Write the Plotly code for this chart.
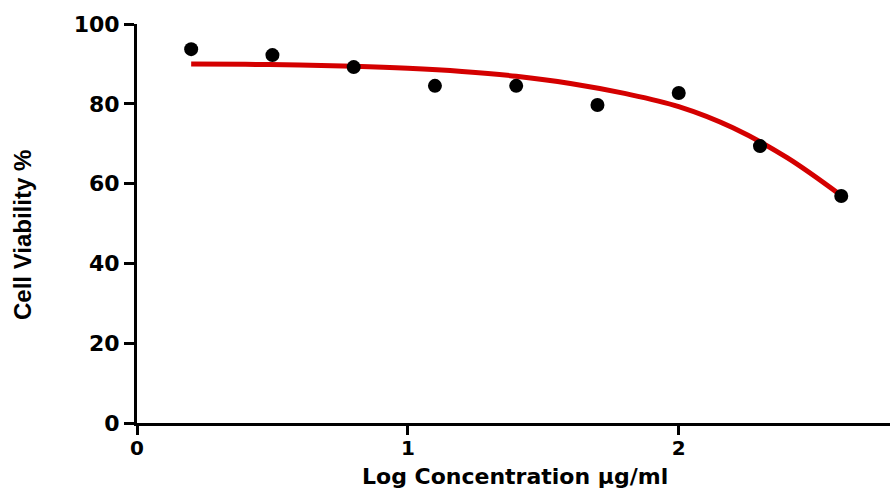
import plotly.graph_objects as go

# Observed data points
log_conc = [0.2, 0.5, 0.8, 1.1, 1.4, 1.7, 2.0, 2.3, 2.6]
viability = [93.7, 92.2, 89.2, 84.5, 84.5, 79.7, 82.7, 69.4, 56.9]

# Fitted curve
fit_x = [0.2, 0.4, 0.6, 0.8, 1.0, 1.2, 1.4, 1.6, 1.8, 2.0, 2.2, 2.4, 2.6]
fit_y = [90.0, 89.9, 89.7, 89.4, 88.9, 88.1, 86.9, 85.1, 82.6, 79.3, 74.0, 66.5, 57.0]

x_ticks = [0, 1, 2]
y_ticks = [0, 20, 40, 60, 80, 100]

fig = go.Figure()
fig.add_trace(go.Scatter(
    x=fit_x, y=fit_y, mode="lines",
    line=dict(color="#d40000", width=5, shape="spline"),
    showlegend=False, hoverinfo="skip",
))
fig.add_trace(go.Scatter(
    x=log_conc, y=viability, mode="markers",
    marker=dict(color="black", size=14),
    showlegend=False,
))

y_tick_font = dict(family="DejaVu Sans", size=22, color="black", weight="bold")
x_tick_font = dict(family="DejaVu Sans", size=20, color="black", weight="bold")

fig.update_layout(
    width=894, height=491,
    margin=dict(l=137, r=4, t=24, b=68),
    paper_bgcolor="white", plot_bgcolor="white",
    xaxis=dict(
        range=[0, 2.78], tickvals=x_ticks, ticktext=[str(v) for v in x_ticks],
        showline=True, linecolor="black", linewidth=3,
        ticks="outside", ticklen=9, tickwidth=3, tickcolor="black",
        showgrid=False, zeroline=False, tickfont=x_tick_font, automargin=False,
        ticklabelstandoff=-4,
    ),
    yaxis=dict(
        range=[0, 100], tickvals=y_ticks, ticktext=[str(v) for v in y_ticks],
        showline=True, linecolor="black", linewidth=3,
        ticks="outside", ticklen=10, tickwidth=3, tickcolor="black",
        showgrid=False, zeroline=False, tickfont=y_tick_font, automargin=False,
    ),
    annotations=[
        dict(text="Log Concentration μg/ml", xref="paper", yref="paper",
             x=(515 - 137) / 753, y=0, xanchor="center", yanchor="middle",
             yshift=-53, showarrow=False,
             font=dict(family="DejaVu Sans", size=22, color="black", weight="bold")),
        dict(text="Cell Viability %", xref="paper", yref="paper",
             x=0, y=(423 - 235) / 399, xanchor="center", yanchor="middle",
             xshift=-115, textangle=-90, showarrow=False,
             font=dict(family="Liberation Sans", size=24, color="black", weight="bold")),
    ],
)

fig.write_html("out.html", config={"displayModeBar": False},
               post_script="document.body.style.margin='0';document.body.style.overflow='hidden';")
